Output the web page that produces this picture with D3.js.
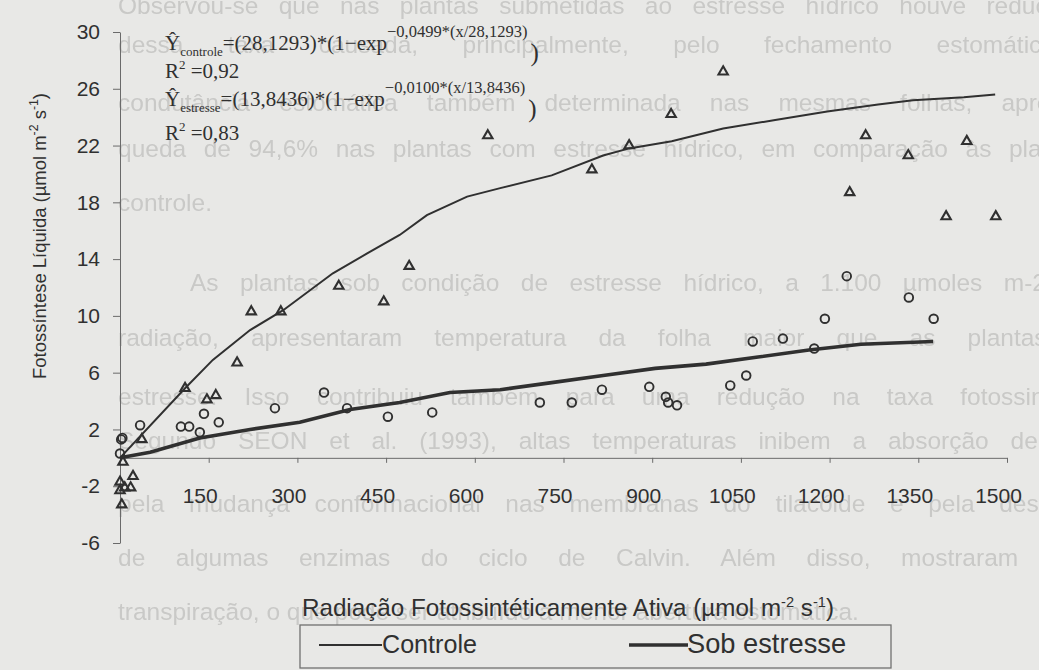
<!DOCTYPE html>
<html><head><meta charset="utf-8">
<script src="https://cdn.jsdelivr.net/npm/d3@7"></script>
<style>
body{margin:0;background:#e8e8e6}
svg{display:block}
</style>
</head><body>
<svg id="chart" width="1039" height="670"></svg>
<script>
// Axis ticks
const xTicks = [150, 300, 450, 600, 750, 900, 1050, 1200, 1350, 1500];
const yTicks = [-6, -2, 2, 6, 10, 14, 18, 22, 26, 30];

// Observed net photosynthesis – control plants (triangles)
const controleX = [5, 0, 0, 8, 18, 22, 3, 37, 110, 147, 162, 198, 222, 272, 370, 446, 489, 622, 798, 861, 932, 1020, 1234, 1261, 1333, 1397, 1432, 1481];
const controleY = [-0.3, -1.7, -2.3, -2.1, -2.1, -1.3, -3.3, 1.3, 4.9, 4.1, 4.4, 6.7, 10.3, 10.3, 12.1, 11.0, 13.5, 22.7, 20.3, 22.0, 24.2, 27.2, 18.7, 22.7, 21.3, 17.0, 22.3, 17.0];

// Observed net photosynthesis – water-stressed plants (circles)
const estresseX = [2, 4, 0, 34, 103, 117, 135, 142, 167, 262, 345, 384, 453, 528, 710, 764, 815, 895, 923, 927, 942, 1032, 1059, 1070, 1121, 1174, 1192, 1229, 1334, 1376];
const estresseY = [1.3, 1.4, 0.3, 2.3, 2.2, 2.2, 1.8, 3.1, 2.5, 3.5, 4.6, 3.5, 2.9, 3.2, 3.9, 3.9, 4.8, 5.0, 4.3, 3.9, 3.7, 5.1, 5.8, 8.2, 8.4, 7.7, 9.8, 12.8, 11.3, 9.8];

// Fitted curves
const fitControleX = [0, 110, 157, 220, 276, 360, 418, 473, 519, 587, 643, 730, 817, 861, 933, 1020, 1108, 1196, 1282, 1341, 1427, 1480];
const fitControleY = [0, 4.9, 6.9, 9.0, 10.4, 13.0, 14.4, 15.7, 17.1, 18.4, 19.0, 19.9, 21.3, 21.8, 22.3, 23.2, 23.8, 24.4, 24.9, 25.2, 25.4, 25.6];
const fitEstresseX = [0, 51, 135, 220, 304, 389, 473, 558, 643, 730, 817, 905, 991, 1079, 1165, 1253, 1375];
const fitEstresseY = [0, 0.4, 1.4, 2.0, 2.5, 3.4, 3.9, 4.6, 4.8, 5.3, 5.8, 6.3, 6.6, 7.1, 7.6, 8.0, 8.2];

// Page text printed behind the figure (justified paragraph lines)
const pageLines = [
  "Observou-se que nas plantas submetidas ao estresse hídrico houve redução",
  "dessa taxa causada, principalmente, pelo fechamento estomático",
  "condutância estomática também determinada nas mesmas folhas, apresentou",
  "queda de 94,6% nas plantas com estresse hídrico, em comparação às plantas",
  "controle.",
  "As plantas sob condição de estresse hídrico, a 1.100 µmoles m-2 s-1 de",
  "radiação, apresentaram temperatura da folha maior que as plantas sem",
  "estresse. Isso contribuiu também para uma redução na taxa fotossintética.",
  "Segundo SEON et al. (1993), altas temperaturas inibem a absorção de CO2",
  "pela mudança conformacional nas membranas do tilacóide e pela desativação",
  "de algumas enzimas do ciclo de Calvin. Além disso, mostraram maior",
  "transpiração, o que pode ser atribuído à menor abertura estomática."
];
const pageBaselines = [14, 53, 111, 157, 211, 291, 346, 405, 449, 512, 566, 620];
const pageStart = [118, 118, 118, 118, 118, 190, 118, 118, 118, 118, 118, 118];
const pageEnd = [1075, 1055, 1124, 1088, null, 1150, 1125, 1110, 1110, 1130, 1110, null];

const W = 1039, H = 670;
const ink = "#303030";
const sans = "'Liberation Sans', Arial, sans-serif";
const svg = d3.select("#chart");

const defs = svg.append("defs");
defs.append("filter").attr("id", "soft")
  .append("feGaussianBlur").attr("stdDeviation", 0.6);

svg.append("rect").attr("width", W).attr("height", H).attr("fill", "#e8e8e6");

// faded page text, justified by widening word spacing
const page = svg.append("g")
  .attr("font-family", sans).attr("filter", "url(#soft)")
  .attr("font-size", 24.5).attr("fill", "#c9c9c7");
pageLines.forEach((t, i) => {
  const el = page.append("text")
    .attr("x", pageStart[i]).attr("y", pageBaselines[i]).text(t);
  if (pageEnd[i] !== null) {
    const natural = el.node().getBBox().width;
    const gaps = t.split(" ").length - 1;
    const extra = (pageEnd[i] - pageStart[i] - natural) / gaps;
    el.attr("word-spacing", Math.max(0, extra));
  }
});

const x = d3.scaleLinear().domain([0, 1500]).range([120, 1007]);
const y = d3.scaleLinear().domain([-6, 30]).range([543, 32]);

// Y axis
const yAxis = svg.append("g")
  .attr("transform", `translate(${x(0)},0)`)
  .call(d3.axisLeft(y).tickValues(yTicks).tickSize(7).tickSizeOuter(0).tickPadding(13)
    .tickFormat(d => String(d)));
yAxis.select(".domain").attr("stroke", "#6a6a6a");
yAxis.selectAll(".tick line").attr("stroke", "#6a6a6a");
yAxis.selectAll("text")
  .attr("font-family", sans).attr("font-size", 21).attr("fill", ink);

// X axis (crosses at y = 0)
const xAxis = svg.append("g")
  .attr("transform", `translate(0,${y(0)})`)
  .call(d3.axisBottom(x).tickValues(xTicks).tickSize(5).tickSizeOuter(0).tickPadding(25)
    .tickFormat(d => String(d)));
xAxis.select(".domain").attr("stroke", "#6a6a6a");
xAxis.selectAll(".tick line").attr("stroke", "#6a6a6a");
xAxis.selectAll("text")
  .attr("font-family", sans).attr("font-size", 21).attr("fill", ink).attr("dx", -9);

// fitted curves
const line = d3.line().x(d => x(d[0])).y(d => y(d[1]));
svg.append("path")
  .datum(fitControleX.map((v, i) => [v, fitControleY[i]]))
  .attr("d", line).attr("fill", "none").attr("stroke", ink).attr("stroke-width", 2);
svg.append("path")
  .datum(fitEstresseX.map((v, i) => [v, fitEstresseY[i]]))
  .attr("d", line).attr("fill", "none").attr("stroke", ink).attr("stroke-width", 3.6);

// control observations
const tri = d3.symbol().type(d3.symbolTriangle).size(38);
svg.append("g").selectAll("path")
  .data(controleX.map((v, i) => [v, controleY[i]]))
  .join("path")
  .attr("d", tri)
  .attr("transform", d => `translate(${x(d[0])},${y(d[1])})`)
  .attr("fill", "none").attr("stroke", ink).attr("stroke-width", 2.1);

// stressed observations
svg.append("g").selectAll("circle")
  .data(estresseX.map((v, i) => [v, estresseY[i]]))
  .join("circle")
  .attr("cx", d => x(d[0])).attr("cy", d => y(d[1])).attr("r", 4.3)
  .attr("fill", "none").attr("stroke", ink).attr("stroke-width", 1.9);

// fitted equations
const eq = svg.append("g")
  .attr("font-family", "'Liberation Serif', 'Times New Roman', serif")
  .attr("fill", ink).attr("font-size", 21);

function equation(yb, sub, coef, expo) {
  const t = eq.append("text").attr("x", 165).attr("y", yb);
  t.append("tspan").text("Ŷ");
  t.append("tspan").attr("font-size", 13).attr("dy", 6).text(sub);
  t.append("tspan").attr("dy", -6).text(`=(${coef})*(1−exp`);
  t.append("tspan").attr("font-size", 16.5).attr("dy", -13).text(expo);
  t.append("tspan").attr("font-size", 25).attr("dx", 3).attr("dy", 24).text(")");
}
function r2(yb, val) {
  const t = eq.append("text").attr("x", 165).attr("y", yb);
  t.append("tspan").text("R");
  t.append("tspan").attr("font-size", 13).attr("dy", -9).text("2");
  t.append("tspan").attr("dy", 9).text(` =${val}`);
}
equation(50, "controle", "28,1293", "−0,0499*(x/28,1293)");
r2(78, "0,92");
equation(106, "estresse", "13,8436", "−0,0100*(x/13,8436)");
r2(140, "0,83");

// scale a text's font (and its tspans) so that it spans the wanted width
function fitWidth(sel, width) {
  for (let pass = 0; pass < 2; pass++) {
    const w = sel.node().getBBox().width;
    const k = width / w;
    sel.attr("font-size", +sel.attr("font-size") * k);
    sel.selectAll("tspan").each(function () {
      const s = d3.select(this);
      if (s.attr("font-size")) s.attr("font-size", +s.attr("font-size") * k);
    });
  }
}

// axis titles
const yt = svg.append("text")
  .attr("transform", "translate(46,236) rotate(-90)")
  .attr("text-anchor", "middle")
  .attr("font-family", sans).attr("font-size", 19.5).attr("fill", ink);
yt.append("tspan").text("Fotossíntese Líquida (µmol m");
yt.append("tspan").attr("font-size", 13).attr("dy", -8).text("-2");
yt.append("tspan").attr("dy", 8).text(" s");
yt.append("tspan").attr("font-size", 13).attr("dy", -8).text("-1");
yt.append("tspan").attr("dy", 8).text(")");
fitWidth(yt, 286);

const xt = svg.append("text")
  .attr("x", 302).attr("y", 616)
  .attr("font-family", sans).attr("font-size", 24).attr("fill", ink);
xt.append("tspan").text("Radiação Fotossintéticamente Ativa (µmol m");
xt.append("tspan").attr("font-size", 14.5).attr("dy", -9).text("-2");
xt.append("tspan").attr("dy", 9).text(" s");
xt.append("tspan").attr("font-size", 14.5).attr("dy", -9).text("-1");
xt.append("tspan").attr("dy", 9).text(")");
fitWidth(xt, 532);

// legend
const lg = svg.append("g");
lg.append("rect").attr("x", 300).attr("y", 625).attr("width", 591).attr("height", 43)
  .attr("fill", "none").attr("stroke", "#707070").attr("stroke-width", 1.3);
lg.append("line").attr("x1", 319).attr("x2", 382).attr("y1", 645).attr("y2", 645)
  .attr("stroke", ink).attr("stroke-width", 2);
const ctl = lg.append("text").attr("x", 382).attr("y", 653).attr("font-family", sans)
  .attr("font-size", 26).attr("fill", ink).text("Controle");
fitWidth(ctl, 95);
lg.append("line").attr("x1", 629).attr("x2", 688).attr("y1", 645).attr("y2", 645)
  .attr("stroke", ink).attr("stroke-width", 3.6);
const sob = lg.append("text").attr("x", 687).attr("y", 653).attr("font-family", sans)
  .attr("font-size", 26).attr("fill", ink).text("Sob estresse");
fitWidth(sob, 159);
</script>
</body></html>
